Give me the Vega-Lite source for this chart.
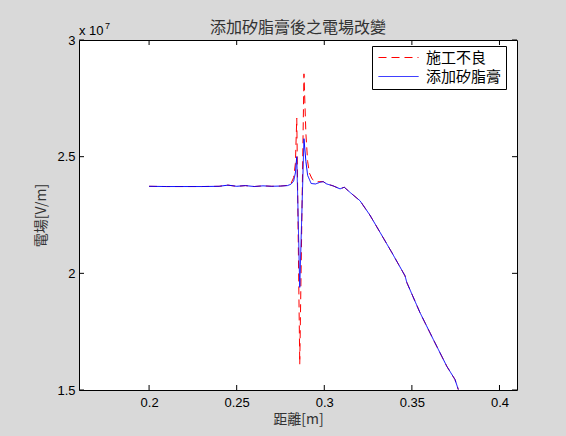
{
  "$schema": "https://vega.github.io/schema/vega-lite/v6.json",
  "width": 438,
  "height": 350,
  "autosize": "none",
  "padding": {"left": 79, "top": 40, "right": 49, "bottom": 46},
  "background": "#d9d9d9",
  "config": {
    "view": {"fill": "white", "stroke": "black", "strokeWidth": 1},
    "font": "Liberation Sans",
    "axis": {
      "grid": false,
      "domain": false,
      "ticks": false,
      "labelColor": "black",
      "labelFont": "Liberation Sans",
      "labelFontSize": 13,
      "titleFont": "Noto Sans CJK TC",
      "titleFontSize": 14,
      "titleFontWeight": "normal",
      "titleColor": "#333333"
    }
  },
  "title": {
    "text": "添加矽脂膏後之電場改變",
    "font": "Noto Sans CJK TC",
    "fontSize": 16,
    "fontWeight": "normal",
    "color": "#333333",
    "offset": 5,
    "dy": 19
  },
  "layer": [
    {
      "data": {
        "values": [
          {"x": 0.2, "y": 23730000, "series": "施工不良"},
          {"x": 0.21, "y": 23720000, "series": "施工不良"},
          {"x": 0.22, "y": 23720000, "series": "施工不良"},
          {"x": 0.23, "y": 23720000, "series": "施工不良"},
          {"x": 0.24, "y": 23730000, "series": "施工不良"},
          {"x": 0.245, "y": 23780000, "series": "施工不良"},
          {"x": 0.25, "y": 23730000, "series": "施工不良"},
          {"x": 0.255, "y": 23760000, "series": "施工不良"},
          {"x": 0.26, "y": 23720000, "series": "施工不良"},
          {"x": 0.265, "y": 23750000, "series": "施工不良"},
          {"x": 0.27, "y": 23730000, "series": "施工不良"},
          {"x": 0.275, "y": 23740000, "series": "施工不良"},
          {"x": 0.279, "y": 23770000, "series": "施工不良"},
          {"x": 0.281, "y": 23850000, "series": "施工不良"},
          {"x": 0.2825, "y": 24100000, "series": "施工不良"},
          {"x": 0.2835, "y": 24700000, "series": "施工不良"},
          {"x": 0.2843, "y": 26650000, "series": "施工不良"},
          {"x": 0.286, "y": 16100000, "series": "施工不良"},
          {"x": 0.2884, "y": 28550000, "series": "施工不良"},
          {"x": 0.2895, "y": 26000000, "series": "施工不良"},
          {"x": 0.2905, "y": 24800000, "series": "施工不良"},
          {"x": 0.2915, "y": 24300000, "series": "施工不良"},
          {"x": 0.293, "y": 24050000, "series": "施工不良"},
          {"x": 0.295, "y": 23920000, "series": "施工不良"},
          {"x": 0.2975, "y": 23930000, "series": "施工不良"},
          {"x": 0.2994, "y": 23930000, "series": "施工不良"},
          {"x": 0.3014, "y": 23830000, "series": "施工不良"},
          {"x": 0.305, "y": 23750000, "series": "施工不良"},
          {"x": 0.309, "y": 23620000, "series": "施工不良"},
          {"x": 0.3114, "y": 23690000, "series": "施工不良"},
          {"x": 0.315, "y": 23450000, "series": "施工不良"},
          {"x": 0.3204, "y": 23110000, "series": "施工不良"},
          {"x": 0.326, "y": 22500000, "series": "施工不良"},
          {"x": 0.3318, "y": 21760000, "series": "施工不良"},
          {"x": 0.3385, "y": 20900000, "series": "施工不良"},
          {"x": 0.3461, "y": 19890000, "series": "施工不良"},
          {"x": 0.3471, "y": 19610000, "series": "施工不良"},
          {"x": 0.3546, "y": 18320000, "series": "施工不良"},
          {"x": 0.3622, "y": 17170000, "series": "施工不良"},
          {"x": 0.3699, "y": 16020000, "series": "施工不良"},
          {"x": 0.3746, "y": 15450000, "series": "施工不良"},
          {"x": 0.3765, "y": 15020000, "series": "施工不良"},
          {"x": 0.2, "y": 23730000, "series": "添加矽脂膏"},
          {"x": 0.21, "y": 23720000, "series": "添加矽脂膏"},
          {"x": 0.22, "y": 23720000, "series": "添加矽脂膏"},
          {"x": 0.23, "y": 23720000, "series": "添加矽脂膏"},
          {"x": 0.24, "y": 23730000, "series": "添加矽脂膏"},
          {"x": 0.245, "y": 23780000, "series": "添加矽脂膏"},
          {"x": 0.25, "y": 23730000, "series": "添加矽脂膏"},
          {"x": 0.255, "y": 23760000, "series": "添加矽脂膏"},
          {"x": 0.26, "y": 23720000, "series": "添加矽脂膏"},
          {"x": 0.265, "y": 23750000, "series": "添加矽脂膏"},
          {"x": 0.27, "y": 23730000, "series": "添加矽脂膏"},
          {"x": 0.275, "y": 23740000, "series": "添加矽脂膏"},
          {"x": 0.279, "y": 23760000, "series": "添加矽脂膏"},
          {"x": 0.281, "y": 23820000, "series": "添加矽脂膏"},
          {"x": 0.2825, "y": 23950000, "series": "添加矽脂膏"},
          {"x": 0.2835, "y": 24300000, "series": "添加矽脂膏"},
          {"x": 0.2843, "y": 25000000, "series": "添加矽脂膏"},
          {"x": 0.286, "y": 19400000, "series": "添加矽脂膏"},
          {"x": 0.2884, "y": 25770000, "series": "添加矽脂膏"},
          {"x": 0.2895, "y": 24800000, "series": "添加矽脂膏"},
          {"x": 0.2905, "y": 24200000, "series": "添加矽脂膏"},
          {"x": 0.2925, "y": 23850000, "series": "添加矽脂膏"},
          {"x": 0.295, "y": 23830000, "series": "添加矽脂膏"},
          {"x": 0.2975, "y": 23900000, "series": "添加矽脂膏"},
          {"x": 0.2994, "y": 23930000, "series": "添加矽脂膏"},
          {"x": 0.3014, "y": 23830000, "series": "添加矽脂膏"},
          {"x": 0.305, "y": 23750000, "series": "添加矽脂膏"},
          {"x": 0.309, "y": 23620000, "series": "添加矽脂膏"},
          {"x": 0.3114, "y": 23690000, "series": "添加矽脂膏"},
          {"x": 0.315, "y": 23450000, "series": "添加矽脂膏"},
          {"x": 0.3204, "y": 23110000, "series": "添加矽脂膏"},
          {"x": 0.326, "y": 22500000, "series": "添加矽脂膏"},
          {"x": 0.3318, "y": 21760000, "series": "添加矽脂膏"},
          {"x": 0.3385, "y": 20900000, "series": "添加矽脂膏"},
          {"x": 0.3461, "y": 19890000, "series": "添加矽脂膏"},
          {"x": 0.3471, "y": 19610000, "series": "添加矽脂膏"},
          {"x": 0.3546, "y": 18320000, "series": "添加矽脂膏"},
          {"x": 0.3622, "y": 17170000, "series": "添加矽脂膏"},
          {"x": 0.3699, "y": 16020000, "series": "添加矽脂膏"},
          {"x": 0.3746, "y": 15450000, "series": "添加矽脂膏"},
          {"x": 0.3765, "y": 15020000, "series": "添加矽脂膏"}
        ]
      },
      "mark": {"type": "line", "clip": true, "strokeWidth": 1},
      "encoding": {
        "x": {
          "field": "x",
          "type": "quantitative",
          "scale": {"domain": [0.16, 0.41], "nice": false, "zero": false},
          "axis": {
            "orient": "bottom",
            "values": [0.2, 0.25, 0.3, 0.35, 0.4],
            "labelExpr": "toString(datum.value)",
            "title": "距離[m]",
            "titleColor": "#333333",
            "labelPadding": 6,
            "titlePadding": 3
          }
        },
        "y": {
          "field": "y",
          "type": "quantitative",
          "scale": {"domain": [15000000, 30000000], "nice": false, "zero": false},
          "axis": {
            "orient": "left",
            "values": [15000000, 20000000, 25000000, 30000000],
            "labelExpr": "toString(datum.value / 10000000)",
            "title": "電場[V/m]",
            "titleColor": "#333333",
            "labelPadding": 4,
            "titlePadding": 8
          }
        },
        "color": {
          "field": "series",
          "type": "nominal",
          "scale": {"domain": ["施工不良", "添加矽脂膏"], "range": ["#ff0000", "#0000ff"]},
          "legend": {
            "orient": "none",
            "legendX": 293,
            "legendY": 6,
            "title": null,
            "fillColor": "white",
            "strokeColor": "black",
            "padding": 4,
            "cornerRadius": 0,
            "symbolType": "M-1,0H7",
            "symbolSize": 100,
            "symbolStrokeWidth": 1,
            "labelFont": "Noto Sans CJK TC",
            "labelFontSize": 15,
            "labelColor": "black",
            "labelOffset": 35,
            "rowPadding": 3
          }
        },
        "strokeDash": {
          "field": "series",
          "type": "nominal",
          "scale": {"domain": ["施工不良", "添加矽脂膏"], "range": [[8, 5], [1, 0]]},
          "legend": null
        }
      }
    },
    {
      "data": {"values": [{"tx": 0.2, "ty": 15000000}, {"tx": 0.25, "ty": 15000000}, {"tx": 0.3, "ty": 15000000}, {"tx": 0.35, "ty": 15000000}, {"tx": 0.4, "ty": 15000000}]},
      "mark": {"type": "tick", "orient": "vertical", "color": "black", "thickness": 1, "size": 5, "opacity": 1, "yOffset": -2.5},
      "encoding": {
        "x": {"field": "tx", "type": "quantitative"},
        "y": {"field": "ty", "type": "quantitative"}
      }
    },
    {
      "data": {"values": [{"tx": 0.2, "ty": 30000000}, {"tx": 0.25, "ty": 30000000}, {"tx": 0.3, "ty": 30000000}, {"tx": 0.35, "ty": 30000000}, {"tx": 0.4, "ty": 30000000}]},
      "mark": {"type": "tick", "orient": "vertical", "color": "black", "thickness": 1, "size": 5, "opacity": 1, "yOffset": 2.5},
      "encoding": {
        "x": {"field": "tx", "type": "quantitative"},
        "y": {"field": "ty", "type": "quantitative"}
      }
    },
    {
      "data": {"values": [{"tx": 0.16, "ty": 15000000}, {"tx": 0.16, "ty": 20000000}, {"tx": 0.16, "ty": 25000000}, {"tx": 0.16, "ty": 30000000}]},
      "mark": {"type": "tick", "orient": "horizontal", "color": "black", "thickness": 1, "size": 5, "opacity": 1, "xOffset": 2.5},
      "encoding": {
        "x": {"field": "tx", "type": "quantitative"},
        "y": {"field": "ty", "type": "quantitative"}
      }
    },
    {
      "data": {"values": [{"tx": 0.41, "ty": 15000000}, {"tx": 0.41, "ty": 20000000}, {"tx": 0.41, "ty": 25000000}, {"tx": 0.41, "ty": 30000000}]},
      "mark": {"type": "tick", "orient": "horizontal", "color": "black", "thickness": 1, "size": 5, "opacity": 1, "xOffset": -2.5},
      "encoding": {
        "x": {"field": "tx", "type": "quantitative"},
        "y": {"field": "ty", "type": "quantitative"}
      }
    },
    {
      "data": {"values": [{"x": 0.16, "y": 30000000, "t": "x 10"}]},
      "mark": {"type": "text", "align": "left", "baseline": "alphabetic", "dy": -5, "fontSize": 13, "font": "Liberation Sans", "color": "black"},
      "encoding": {
        "x": {"field": "x", "type": "quantitative"},
        "y": {"field": "y", "type": "quantitative"},
        "text": {"field": "t"}
      }
    },
    {
      "data": {"values": [{"x": 0.16, "y": 30000000, "t": "7"}]},
      "mark": {"type": "text", "align": "left", "baseline": "alphabetic", "dx": 26, "dy": -11, "fontSize": 9, "font": "Liberation Sans", "color": "black"},
      "encoding": {
        "x": {"field": "x", "type": "quantitative"},
        "y": {"field": "y", "type": "quantitative"},
        "text": {"field": "t"}
      }
    }
  ]
}
